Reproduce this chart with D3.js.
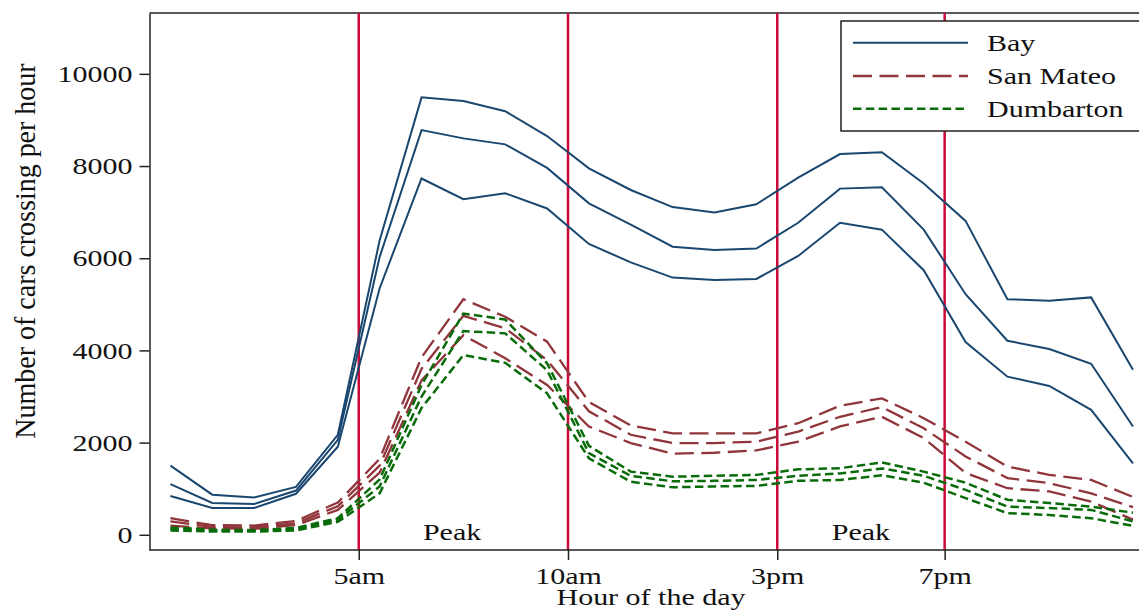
<!DOCTYPE html>
<html>
<head>
<meta charset="utf-8">
<script src="https://cdn.jsdelivr.net/npm/d3@7"></script>
<style>
  body { margin: 0; background: white; }
  svg { display: block; }
</style>
</head>
<body>
<div id="chart"></div>
<script>
// Hourly crossings, three lines per bridge
const hours = [0, 1, 2, 3, 4, 5, 6, 7, 8, 9, 10, 11, 12, 13, 14, 15, 16, 17, 18, 19, 20, 21, 22, 23];

const bayHigh = [1500, 870, 810, 1040, 2170, 6390, 9490, 9410, 9190, 8650, 7950, 7480, 7110, 6990, 7170, 7750, 8260, 8300, 7620, 6810, 5110, 5080, 5150, 3580];
const bayMid  = [1100, 690, 670, 960, 2060, 6030, 8780, 8600, 8470, 7960, 7190, 6730, 6250, 6180, 6210, 6770, 7510, 7540, 6620, 5220, 4210, 4030, 3710, 2350];
const bayLow  = [840, 580, 580, 890, 1910, 5350, 7730, 7280, 7410, 7080, 6310, 5910, 5580, 5530, 5550, 6050, 6770, 6620, 5740, 4180, 3430, 3230, 2710, 1550];

const smHigh = [360, 210, 200, 300, 700, 1650, 3850, 5110, 4730, 4190, 2880, 2370, 2200, 2200, 2200, 2420, 2800, 2960, 2530, 2020, 1480, 1300, 1190, 820];
const smMid  = [290, 170, 160, 250, 620, 1500, 3600, 4750, 4480, 3790, 2680, 2170, 1990, 1990, 2020, 2240, 2560, 2770, 2310, 1700, 1230, 1120, 900, 600];
const smLow  = [200, 140, 130, 210, 540, 1350, 3350, 4330, 3830, 3250, 2350, 1990, 1760, 1780, 1830, 2020, 2350, 2560, 2100, 1340, 1010, 940, 720, 330];

const dbHigh = [160, 110, 100, 150, 360, 1200, 3250, 4800, 4670, 3720, 1930, 1370, 1260, 1280, 1300, 1420, 1445, 1570, 1370, 1130, 760, 690, 610, 480];
const dbMid  = [130, 90, 85, 120, 320, 1050, 3000, 4420, 4370, 3570, 1770, 1280, 1160, 1170, 1190, 1280, 1330, 1440, 1280, 975, 610, 580, 540, 290];
const dbLow  = [95, 70, 70, 95, 280, 900, 2750, 3900, 3730, 3070, 1660, 1150, 1030, 1050, 1060, 1170, 1190, 1290, 1130, 795, 470, 430, 360, 195];

const xTicks = [5, 10, 15, 19];
const xTickLabels = ["5am", "10am", "3pm", "7pm"];
const yTicks = [0, 2000, 4000, 6000, 8000, 10000];
const peakHours = [7.23, 17];

const series = [
  { name: "Bay", color: "#1a476f", width: 2, dash: null, lines: [bayHigh, bayMid, bayLow] },
  { name: "San Mateo", color: "#90353b", width: 2.3, dash: "19,7.5", lines: [smHigh, smMid, smLow] },
  { name: "Dumbarton", color: "#0a6b0a", width: 2.5, dash: "8.5,4.3", lines: [dbHigh, dbMid, dbLow] }
];

const width = 1139, height = 612;
const font = "'Liberation Serif', 'Times New Roman', serif";
const sx = 1.25; // text in the original is stretched sideways

const x = d3.scaleLinear().domain([0, 24]).range([149.5, 149.5 + 24 * 41.85]);
const y = d3.scaleLinear().domain([-330, 11320]).range([550, 13]);

const svg = d3.select("#chart").append("svg")
    .attr("width", width)
    .attr("height", height)
    .style("font-family", font);

// stretch text horizontally around its anchor point
function stretch(sel, k) {
  sel.each(function() {
    const t = d3.select(this);
    const tx = +t.attr("x") || 0;
    const ty = +t.attr("y") || 0;
    t.attr("x", 0).attr("y", 0)
     .attr("transform", `translate(${tx},${ty}) scale(${k},1)`);
  });
}

// frame top line
svg.append("line")
    .attr("x1", x(0)).attr("x2", width)
    .attr("y1", y.range()[1]).attr("y2", y.range()[1])
    .attr("stroke", "#222").attr("stroke-width", 1.5);

// vertical hour markers
svg.append("g")
  .selectAll("line")
  .data(xTicks)
  .join("line")
    .attr("x1", d => x(d)).attr("x2", d => x(d))
    .attr("y1", y.range()[0]).attr("y2", y.range()[1])
    .attr("stroke", "#cc0a3a")
    .attr("stroke-width", 2.5);

// y axis
const yAxis = svg.append("g")
    .attr("transform", `translate(${x(0)},0)`)
    .call(d3.axisLeft(y).tickValues(yTicks).tickFormat(d3.format("d"))
      .tickSize(10).tickPadding(7).tickSizeOuter(0));
yAxis.select(".domain").attr("stroke", "#222").attr("stroke-width", 1.5);
yAxis.selectAll(".tick line").attr("stroke", "#222").attr("stroke-width", 1.5);
yAxis.selectAll(".tick text")
    .attr("font-size", 24)
    .attr("font-family", font)
    .attr("fill", "#111")
    .call(stretch, sx);

// x axis
const xAxis = svg.append("g")
    .attr("transform", `translate(0,${y.range()[0]})`)
    .call(d3.axisBottom(x).tickValues(xTicks).tickSize(10).tickPadding(7).tickSizeOuter(0)
      .tickFormat((d, i) => xTickLabels[i]));
xAxis.select(".domain")
    .attr("d", `M${x(0)},0H${width}`)
    .attr("stroke", "#222").attr("stroke-width", 1.5);
xAxis.selectAll(".tick line").attr("stroke", "#222").attr("stroke-width", 1.5);
xAxis.selectAll(".tick text")
    .attr("font-size", 24)
    .attr("font-family", font)
    .attr("fill", "#111")
    .call(stretch, sx);

// lines
const line = d3.line()
    .x((d, i) => x(hours[i] + 0.5))
    .y(d => y(d));

series.forEach(s => {
  svg.append("g")
    .selectAll("path")
    .data(s.lines)
    .join("path")
      .attr("d", line)
      .attr("fill", "none")
      .attr("stroke", s.color)
      .attr("stroke-width", s.width)
      .attr("stroke-dasharray", s.dash);
});

// Peak labels
svg.append("g")
  .selectAll("text")
  .data(peakHours)
  .join("text")
    .attr("x", d => x(d))
    .attr("y", 540)
    .attr("text-anchor", "middle")
    .attr("font-size", 24)
    .attr("fill", "#111")
    .text("Peak")
    .call(stretch, sx);

// axis titles
svg.append("text")
    .attr("x", 651)
    .attr("y", 605)
    .attr("text-anchor", "middle")
    .attr("font-size", 24)
    .attr("fill", "#111")
    .text("Hour of the day")
    .call(stretch, sx);

svg.append("text")
    .attr("transform", `translate(35,251) scale(1.05,1) rotate(-90)`)
    .attr("text-anchor", "middle")
    .attr("font-size", 28)
    .attr("fill", "#111")
    .text("Number of cars crossing per hour");

// legend
const legend = svg.append("g").attr("transform", "translate(841,21)");
legend.append("rect")
    .attr("width", 320).attr("height", 110)
    .attr("fill", "white")
    .attr("stroke", "#222").attr("stroke-width", 1.5);

const legendRows = [21.7, 55, 87.7];
const item = legend.selectAll("g.item")
  .data(series)
  .join("g")
    .attr("class", "item")
    .attr("transform", (d, i) => `translate(0,${legendRows[i]})`);
item.append("line")
    .attr("x1", 12).attr("x2", 127)
    .attr("stroke", d => d.color)
    .attr("stroke-width", d => d.width)
    .attr("stroke-dasharray", d => d.dash);
item.append("text")
    .attr("x", 146)
    .attr("y", 8)
    .attr("font-size", 24)
    .attr("fill", "#111")
    .text(d => d.name)
    .call(stretch, sx);
</script>
</body>
</html>
